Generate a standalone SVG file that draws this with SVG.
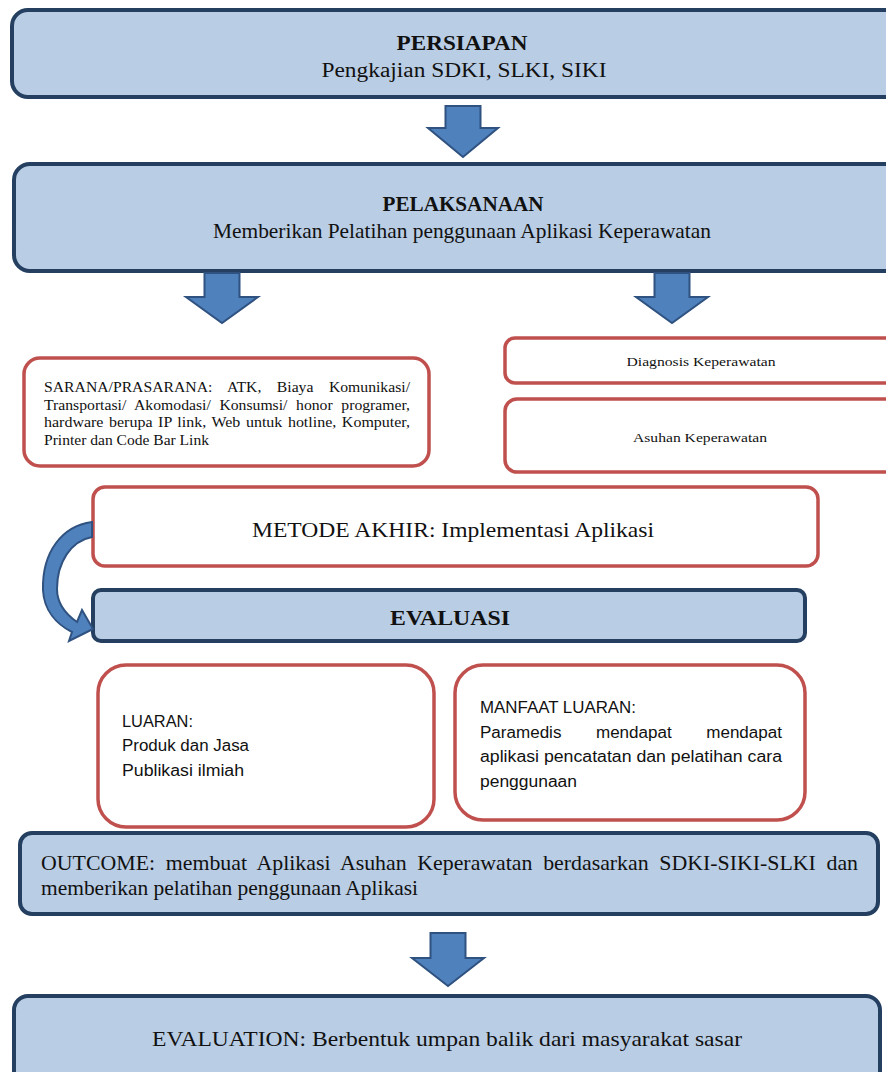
<svg xmlns="http://www.w3.org/2000/svg" width="886" height="1072" viewBox="0 0 886 1072">
<style>
.blue{fill:#b9cde5;stroke:#243f60;stroke-width:4}
.red{fill:#ffffff;stroke:#c0504d;stroke-width:3.5}
.arrow{fill:#4f81bd;stroke:#2f5280;stroke-width:2;stroke-linejoin:miter}
.serif{font-family:"Liberation Serif","Times New Roman",serif;fill:#111}
.sans{font-family:"Liberation Sans",Arial,sans-serif;fill:#111}
.c{text-anchor:middle}
.b{font-weight:bold}
</style>
<rect width="886" height="1072" fill="#ffffff"/>
<g id="persiapan">
<rect class="blue" x="12" y="10" width="900" height="87" rx="16"/>
<text class="serif c b" x="462" y="50" font-size="20" textLength="131" lengthAdjust="spacingAndGlyphs">PERSIAPAN</text>
<text class="serif c" x="464" y="77" font-size="20" textLength="285" lengthAdjust="spacingAndGlyphs">Pengkajian SDKI, SLKI, SIKI</text>
</g>
<g id="pelaksanaan">
<rect class="blue" x="14" y="164" width="900" height="107" rx="16"/>
<text class="serif c b" x="463" y="211" font-size="20" textLength="161" lengthAdjust="spacingAndGlyphs">PELAKSANAAN</text>
<text class="serif c" x="462" y="238" font-size="21" textLength="498" lengthAdjust="spacingAndGlyphs">Memberikan Pelatihan penggunaan Aplikasi Keperawatan</text>
</g>
<g id="sarana">
<rect class="red" x="24" y="358" width="405" height="108" rx="16"/>
<text class="serif" x="44" y="392" font-size="15" word-spacing="11" textLength="366" lengthAdjust="spacingAndGlyphs">SARANA/PRASARANA: ATK, Biaya Komunikasi/</text>
<text class="serif" x="44" y="410" font-size="15" word-spacing="4.5" textLength="366" lengthAdjust="spacingAndGlyphs">Transportasi/ Akomodasi/ Konsumsi/ honor programer,</text>
<text class="serif" x="44" y="427" font-size="15" word-spacing="1.5" textLength="366" lengthAdjust="spacingAndGlyphs">hardware berupa IP link, Web untuk hotline, Komputer,</text>
<text class="serif" x="44" y="445" font-size="15" textLength="165" lengthAdjust="spacingAndGlyphs">Printer dan Code Bar Link</text>
</g>
<g id="diagnosis">
<rect class="red" x="505" y="338" width="400" height="45" rx="10"/>
<text class="serif c" x="701" y="366" font-size="13" textLength="149" lengthAdjust="spacingAndGlyphs">Diagnosis Keperawatan</text>
</g>
<g id="asuhan">
<rect class="red" x="505" y="399" width="400" height="73" rx="12"/>
<text class="serif c" x="700" y="442" font-size="13" textLength="134" lengthAdjust="spacingAndGlyphs">Asuhan Keperawatan</text>
</g>
<g id="metode">
<rect class="red" x="93" y="487" width="725" height="79" rx="12"/>
<text class="serif c" x="453" y="537" font-size="21" textLength="402" lengthAdjust="spacingAndGlyphs">METODE AKHIR: Implementasi Aplikasi</text>
</g>
<g id="evaluasi">
<rect class="blue" x="93" y="590" width="712" height="51" rx="8"/>
<text class="serif c b" x="450" y="625" font-size="21" textLength="120" lengthAdjust="spacingAndGlyphs">EVALUASI</text>
</g>
<g id="luaran">
<rect class="red" x="98" y="665" width="336" height="162" rx="28"/>
<text class="sans" x="122" y="727" font-size="16" textLength="71" lengthAdjust="spacingAndGlyphs">LUARAN:</text>
<text class="sans" x="122" y="751" font-size="16" textLength="127" lengthAdjust="spacingAndGlyphs">Produk dan Jasa</text>
<text class="sans" x="122" y="776" font-size="16" textLength="122" lengthAdjust="spacingAndGlyphs">Publikasi ilmiah</text>
</g>
<g id="manfaat">
<rect class="red" x="455" y="665" width="350" height="155" rx="28"/>
<text class="sans" x="480" y="713" font-size="16" textLength="156" lengthAdjust="spacingAndGlyphs">MANFAAT LUARAN:</text>
<text class="sans" x="480" y="738" font-size="16" word-spacing="28" textLength="302" lengthAdjust="spacingAndGlyphs">Paramedis mendapat mendapat</text>
<text class="sans" x="480" y="762" font-size="16" textLength="302" lengthAdjust="spacingAndGlyphs">aplikasi pencatatan dan pelatihan cara</text>
<text class="sans" x="480" y="787" font-size="16" textLength="97" lengthAdjust="spacingAndGlyphs">penggunaan</text>
</g>
<g id="outcome">
<rect class="blue" x="20" y="833" width="858" height="81" rx="12"/>
<text class="serif" x="41" y="870" font-size="21" word-spacing="5" textLength="817" lengthAdjust="spacingAndGlyphs">OUTCOME: membuat Aplikasi Asuhan Keperawatan berdasarkan SDKI-SIKI-SLKI dan</text>
<text class="serif" x="41" y="895" font-size="21" textLength="377" lengthAdjust="spacingAndGlyphs">memberikan pelatihan penggunaan Aplikasi</text>
</g>
<g id="evaluation">
<rect class="blue" x="14" y="996" width="866" height="92" rx="14"/>
<text class="serif c" x="447" y="1046" font-size="21" textLength="590" lengthAdjust="spacingAndGlyphs">EVALUATION: Berbentuk umpan balik dari masyarakat sasar</text>
</g>
<g id="connectors">
<polygon class="arrow" points="445.5,106 480.5,106 480.5,128 498,128 463,157 428,128 445.5,128"/>
<polygon class="arrow" points="204.5,273 239.5,273 239.5,297 258,297 222,323 186,297 204.5,297"/>
<polygon class="arrow" points="654.5,273 689.5,273 689.5,297 708,297 672,323 636,297 654.5,297"/>
<polygon class="arrow" points="430.5,933 465.5,933 465.5,958 484,958 448,986 412,958 430.5,958"/>
<path class="arrow" stroke-width="1.2" d="M92,522 C62,526 42,552 43,590 C44,610 56,624 72,632 L69,641 L93,629 L82,610 L77,622 C64,613 57,602 57,589 C57,562 71,541 92,537 Z"/>
</g>
</svg>
